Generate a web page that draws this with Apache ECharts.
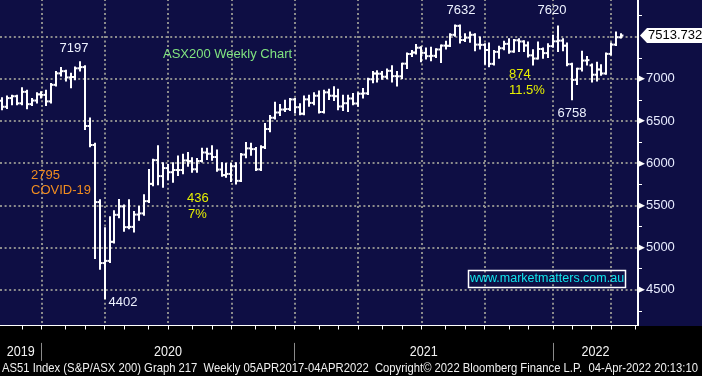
<!DOCTYPE html>
<html>
<head>
<meta charset="utf-8">
<style>html,body{margin:0;padding:0;background:#000}#chart{width:702px;height:376px}</style>
<script src="https://cdn.jsdelivr.net/npm/echarts@6/dist/echarts.min.js"></script>
</head>
<body>
<div id="chart"></div>
<script>
// weekly bars, first week starts Mon 28 Oct 2019, 3 empty weeks after the last bar
var firstWeek = Date.UTC(2019, 9, 28);
var weekCount = 131;

var openVals = [6740,6669,6772,6794,6710,6846,6700,6743,6816,6810,6733,6929,7065,7091,7017,7022,7125,7139,6441,6216,
  5539,4816,4842,5068,5388,5488,5242,5245,5391,5405,5550,5755,6036,5847,5942,5893,5919,5919,6033,6024,
  5928,6026,6127,6112,6073,5925,5859,5873,5964,5791,6102,6176,6167,5927,6190,6405,6539,6601,6636,6642,
  6756,6664,6587,6757,6715,6800,6607,6840,6800,6794,6673,6711,6767,6708,6824,6828,6995,7063,7061,7025,
  7095,7032,7030,7180,7295,7312,7369,7308,7269,7273,7348,7394,7392,7522,7628,7460,7489,7522,7406,7403,
  7342,7178,7320,7363,7415,7324,7457,7443,7396,7279,7241,7354,7305,7388,7445,7453,7393,7174,6988,7120,
  7217,7160,7049,7111,7064,7296,7406,7493];
var highVals = [6770,6790,6800,6800,6890,6860,6760,6830,6840,6860,6940,7080,7130,7095,7060,7135,7197,7150,6530,6230,
  5560,5230,5360,5430,5565,5500,5560,5420,5480,5620,5920,6040,6200,6000,5980,6000,6080,6100,6120,6060,
  6050,6170,6170,6200,6150,6000,5990,5990,6000,6110,6240,6230,6180,6200,6465,6560,6717,6690,6740,6760,
  6760,6700,6790,6800,6830,6850,6860,6870,6900,6870,6800,6800,6820,6830,6880,7000,7080,7090,7080,7110,
  7150,7080,7180,7300,7330,7400,7375,7360,7370,7350,7395,7440,7530,7632,7632,7530,7550,7530,7490,7410,
  7420,7330,7380,7440,7470,7460,7470,7445,7430,7340,7430,7360,7410,7510,7620,7470,7420,7180,7120,7320,
  7260,7170,7190,7160,7300,7420,7550,7530];
var lowVals = [6640,6655,6700,6700,6700,6650,6690,6720,6780,6690,6720,6920,7040,6980,6900,6995,7100,6405,6200,4876,
  4750,4402,4830,5060,5360,5200,5230,5190,5330,5390,5540,5740,5750,5720,5810,5780,5860,5880,5970,5900,
  5900,6020,6050,6040,5910,5850,5840,5790,5760,5790,6070,6100,5920,5920,6180,6380,6530,6570,6620,6630,
  6600,6580,6580,6680,6700,6600,6600,6760,6750,6640,6630,6620,6700,6680,6780,6820,6960,6970,7000,7010,
  6970,6920,7010,7130,7270,7300,7210,7240,7220,7260,7200,7360,7390,7510,7430,7450,7440,7340,7360,7180,
  7150,7170,7250,7350,7310,7320,7330,7330,7265,7170,7240,7250,7260,7380,7330,7340,7160,6758,6940,7100,
  7170,6970,6980,7050,7060,7290,7400,7490];
var closeVals = [6669,6772,6794,6710,6846,6700,6743,6816,6810,6733,6929,7065,7091,7017,7022,7125,7139,6441,6216,5539,
  4816,4842,5068,5388,5488,5242,5245,5391,5405,5550,5755,6036,5847,5942,5893,5919,5919,6033,6024,5928,
  6026,6127,6112,6073,5925,5859,5873,5964,5791,6102,6176,6167,5927,6190,6405,6539,6601,6636,6642,6756,
  6664,6587,6757,6715,6800,6607,6840,6800,6794,6673,6711,6767,6708,6824,6828,6995,7063,7061,7025,7095,
  7032,7030,7180,7295,7312,7369,7308,7269,7273,7348,7394,7392,7522,7628,7460,7489,7522,7406,7403,7342,
  7178,7320,7363,7415,7324,7457,7443,7396,7279,7241,7354,7305,7388,7445,7453,7393,7174,6988,7120,7217,
  7222,7049,7111,7064,7296,7406,7493,7513.732];

var yTicks = [4500, 5000, 5500, 6000, 6500, 7000];

var weeks = [];
for (var i = 0; i < weekCount; i++) {
  weeks.push(new Date(firstWeek + i * 7 * 86400000).toISOString().slice(0, 10));
}
// month of the friday of week i (+k weeks)
function friMonth(i, k) {
  return new Date(firstWeek + (i * 7 + 4 + k * 7) * 86400000).getUTCMonth();
}
function isMonthEnd(i) { return friMonth(i, 0) !== friMonth(i, 1); }
function isQuarterEnd(i) { return isMonthEnd(i) && friMonth(i, 0) % 3 === 2; }
function isYearEnd(i) { return isMonthEnd(i) && friMonth(i, 0) === 11; }

var bounds = [-0.5];
for (var i = 0; i < weekCount; i++) { if (isYearEnd(i)) bounds.push(i); }
bounds.push(weekCount - 0.5);

var ohlc = [];
for (var i = 0; i < closeVals.length; i++) {
  ohlc.push([i, openVals[i], highVals[i], lowVals[i], closeVals[i]]);
}

function renderBar(params, api) {
  var i = api.value(0);
  var h = api.coord([i, api.value(2)]);
  var l = api.coord([i, api.value(3)]);
  var o = api.coord([i, api.value(1)]);
  var c = api.coord([i, api.value(4)]);
  var half = api.size([1, 0])[0] * 0.5;
  var x = Math.round(h[0]);
  var st = { stroke: '#ffffff', lineWidth: 2 };
  return {
    type: 'group',
    children: [
      { type: 'line', shape: { x1: x, y1: h[1] - 1, x2: x, y2: l[1] + 1 }, style: st },
      { type: 'line', shape: { x1: x - half, y1: o[1], x2: x, y2: o[1] }, style: st },
      { type: 'line', shape: { x1: x, y1: c[1], x2: x + half, y2: c[1] }, style: st }
    ]
  };
}

var dotted = { color: '#8c8c8c', width: 2, type: [2, 2.6] };
var font = '"Liberation Sans", Arial, sans-serif';

var myChart = echarts.init(document.getElementById('chart'));
var option = {
  backgroundColor: '#0e0e44',
  animation: false,
  grid: { left: 0, right: 64, top: -5.5, height: 337.4, outerBoundsMode: 'none', containLabel: false },
  xAxis: [
    { // grid lines
      type: 'category', data: weeks, z: 0,
      axisLine: { show: false }, axisTick: { show: false }, axisLabel: { show: false },
      splitLine: { show: true, alignWithLabel: true, interval: function (i) { return isQuarterEnd(i); }, lineStyle: dotted }
    },
    { // axis line with monthly ticks
      type: 'category', data: weeks, z: 6, position: 'bottom', offset: -6.4,
      axisLine: { show: true, lineStyle: { color: '#ffffff', width: 1 } },
      axisTick: { show: true, alignWithLabel: true, length: 4, interval: function (i) { return isMonthEnd(i); }, lineStyle: { color: '#ffffff', width: 1 } },
      axisLabel: { show: false }, splitLine: { show: false }
    },
    { // year dividers
      type: 'category', data: weeks, z: 6, position: 'bottom', offset: 11,
      axisLine: { show: false },
      axisTick: { show: true, alignWithLabel: true, length: 18, interval: function (i) { return isYearEnd(i); }, lineStyle: { color: '#8a8a8a', width: 1 } },
      axisLabel: { show: false },
      splitLine: { show: false }
    }
  ],
  yAxis: {
    type: 'value', position: 'right', min: 4000, max: 8000, interval: 500,
    axisLine: { show: true, lineStyle: { color: '#ffffff', width: 2 } },
    axisTick: { show: false },
    minorTick: { show: true, splitNumber: 2, length: 4, lineStyle: { color: '#ffffff', width: 1 } },
    splitLine: { show: true, lineStyle: dotted },
    axisLabel: {
      margin: 0,
      formatter: function (v) {
        return yTicks.indexOf(v) >= 0 ? '{t|\u25B6}{v|' + v + '}' : '';
      },
      rich: {
        t: { fontSize: 9, color: '#ffffff', fontFamily: 'DejaVu Sans' },
        v: { fontSize: 13, color: '#e8ecff', fontFamily: font, padding: [0, 0, 0, 1] }
      }
    }
  },
  series: [{
    type: 'custom', xAxisIndex: 0, yAxisIndex: 0, z: 2,
    renderItem: renderBar,
    encode: { x: 0, y: [1, 2, 3, 4] },
    data: ohlc
  }]
};
myChart.setOption(option);

function txt(s, x, y, color, align, size) {
  return {
    type: 'text', z: 10,
    style: { text: s, x: x, y: y, fill: color, font: (size || 13) + 'px ' + font,
      textAlign: align || 'left', align: align || 'left', textVerticalAlign: 'middle', verticalAlign: 'middle' }
  };
}

// squeeze text to a width, like the narrow terminal font
var measureCtx = document.createElement('canvas').getContext('2d');
function squeezed(s, x, y, size, width, color, align) {
  measureCtx.font = size + 'px ' + font;
  var w = measureCtx.measureText(s).width;
  return {
    type: 'text', z: 10, x: x, y: y, scaleX: width / w, scaleY: 1,
    style: { text: s, x: 0, y: 0, fill: color, font: size + 'px ' + font,
      textAlign: align, align: align, textVerticalAlign: 'middle', verticalAlign: 'middle' }
  };
}

var lastClose = closeVals[closeVals.length - 1];
var tagY = myChart.convertToPixel({ yAxisIndex: 0 }, lastClose);

var yearEls = [];
for (var k = 0; k < bounds.length - 1; k++) {
  var mid = (bounds[k] + bounds[k + 1]) / 2;
  var px = myChart.convertToPixel({ xAxisIndex: 0 }, Math.round(mid)) + (mid - Math.round(mid)) * 4.87;
  var yr = weeks[Math.round(mid)].slice(0, 4);
  yearEls.push(squeezed(yr, px, 352, 15, 28, '#f2f2f2', 'center'));
}

myChart.setOption({
  graphic: [
    { type: 'rect', z: 3, shape: { x: 0, y: 326, width: 702, height: 50 }, style: { fill: '#000000' } },
    txt('7197', 74, 48, '#eef2ff', 'center'),
    txt('ASX200 Weekly Chart', 163, 54, '#80e480'),
    txt('7632', 461, 10, '#eef2ff', 'center'),
    txt('7620', 552, 10, '#eef2ff', 'center'),
    txt('874', 509, 74, '#e6f000'),
    txt('11.5%', 509, 90, '#e6f000'),
    txt('6758', 572, 113, '#eef2ff', 'center'),
    txt('2795', 31, 175, '#f08c20'),
    txt('COVID-19', 31, 190, '#f08c20'),
    txt('436', 187, 198, '#e6f000'),
    txt('7%', 188, 214, '#e6f000'),
    txt('4402', 123, 302, '#eef2ff', 'center'),
    { type: 'rect', z: 10, shape: { x: 468.5, y: 270.5, width: 157, height: 17 }, style: { fill: 'none', stroke: '#ffffff', lineWidth: 1.5 } },
    txt('www.marketmatters.com.au', 547, 279, '#10e4ec', 'center', 12.5),
    {
      type: 'group', z: 10, x: 640, y: tagY,
      children: [
        { type: 'polygon', z: 10, shape: { points: [[0, 0], [7, -7.5], [62, -7.5], [62, 7.5], [7, 7.5]] }, style: { fill: '#ffffff' } },
        { type: 'text', z: 11, style: { text: '7513.732', x: 8, y: 0, fill: '#000000', font: '13px ' + font, verticalAlign: 'middle', textVerticalAlign: 'middle' } }
      ]
    },
    squeezed('AS51 Index (S&P/ASX 200) Graph 217  Weekly 05APR2017-04APR2022  Copyright\u00A9 2022 Bloomberg Finance L.P.  04-Apr-2022 20:13:10',
      2, 368, 13, 696, '#f0f0f0', 'left')
  ].concat(yearEls)
});

window.onresize = function () { myChart.resize(); };
</script>
</body>
</html>
